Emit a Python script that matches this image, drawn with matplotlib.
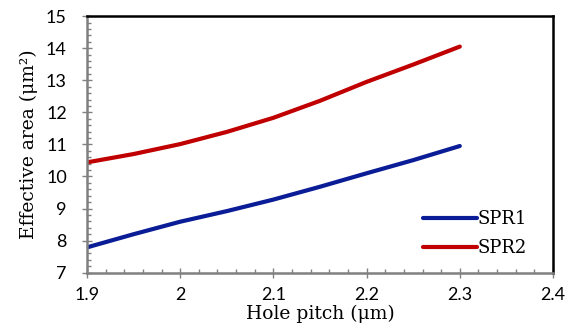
import matplotlib.pyplot as plt
from matplotlib.ticker import MultipleLocator

# Data
pitch = [1.9, 1.95, 2.0, 2.05, 2.1, 2.15, 2.2, 2.25, 2.3]
spr1 = [7.79, 8.2, 8.59, 8.92, 9.28, 9.68, 10.1, 10.51, 10.95]
spr2 = [10.44, 10.7, 11.01, 11.39, 11.83, 12.36, 12.95, 13.49, 14.05]

fig = plt.figure(figsize=(5.74, 3.36), dpi=100)
ax = fig.add_axes([0.1516, 0.1884, 0.8118, 0.7636])

ax.plot(pitch, spr1, color='#0A1C96', lw=3, solid_capstyle='round', label='SPR1')
ax.plot(pitch, spr2, color='#C00000', lw=3, solid_capstyle='round', label='SPR2')

ax.set_xlim(1.9, 2.4)
ax.set_ylim(7, 15)
ax.xaxis.set_major_locator(MultipleLocator(0.1))
ax.xaxis.set_minor_locator(MultipleLocator(0.02))
ax.yaxis.set_major_locator(MultipleLocator(1))
ax.yaxis.set_minor_locator(MultipleLocator(0.2))
ax.set_xticks([1.9, 2.0, 2.1, 2.2, 2.3, 2.4])
ax.set_xticklabels(['1.9', '2', '2.1', '2.2', '2.3', '2.4'])

for s in ['left', 'bottom']:
    ax.spines[s].set_color('#808080')
    ax.spines[s].set_linewidth(1.8)
for s in ['top', 'right']:
    ax.spines[s].set_color('black')
    ax.spines[s].set_linewidth(1.8)

ax.tick_params(which='major', direction='inout', length=7, width=1, color='#808080',
               labelsize=13)
ax.tick_params(axis='x', which='major', pad=7)
ax.tick_params(axis='y', which='major', pad=11)
ax.tick_params(which='minor', direction='in', length=3, width=1, color='#808080')
for lab in ax.get_xticklabels() + ax.get_yticklabels():
    lab.set_family('Lato')

ax.set_xlabel('Hole pitch (μm)', family='DejaVu Serif', fontsize=13.5, labelpad=1)
ax.set_ylabel('Effective area (μm²)', family='DejaVu Serif', fontsize=13.5, labelpad=6)

ax.legend(loc='lower right', bbox_to_anchor=(0.945, 0.06), frameon=False,
          borderaxespad=0, borderpad=0,
          prop={'family': 'DejaVu Serif', 'size': 13}, handlelength=3.0,
          handletextpad=0.05, labelspacing=0.6)

fig.savefig('out.png', dpi=100)
